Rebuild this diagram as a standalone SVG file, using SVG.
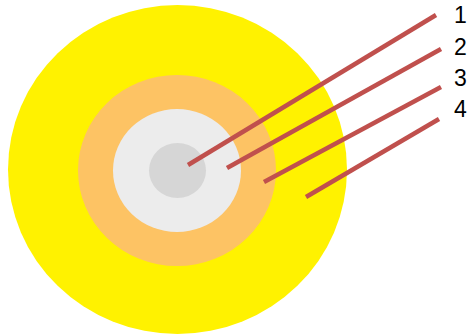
<svg xmlns="http://www.w3.org/2000/svg" width="473" height="336" viewBox="0 0 473 336">
<style>
.lbl{font-family:"Liberation Sans",Arial,sans-serif;font-size:23px;fill:#000}
.ln{stroke:#C0504D;stroke-width:4.5;fill:none}
</style>
<rect width="473" height="336" fill="#fff"/>
<g id="layer4"><ellipse cx="177.5" cy="169.5" rx="169.5" ry="164.5" fill="#FFF200"/></g>
<g id="layer3"><ellipse cx="177" cy="170.5" rx="99" ry="95.5" fill="#FDC364"/></g>
<g id="layer2"><ellipse cx="177" cy="170.5" rx="64" ry="61.5" fill="#ECECEC"/></g>
<g id="layer1"><ellipse cx="177.5" cy="170.5" rx="28.5" ry="27.5" fill="#D6D6D6"/></g>
<g id="connectors">
<line class="ln" x1="188" y1="165" x2="436" y2="15"/>
<line class="ln" x1="227" y1="168" x2="441" y2="49"/>
<line class="ln" x1="264" y1="182" x2="441" y2="87"/>
<line class="ln" x1="306" y1="197" x2="439" y2="119"/>
</g>
<g id="labels">
<text class="lbl" x="454" y="23">1</text>
<text class="lbl" x="454" y="55">2</text>
<text class="lbl" x="454" y="86">3</text>
<text class="lbl" x="454" y="117">4</text>
</g>
</svg>
